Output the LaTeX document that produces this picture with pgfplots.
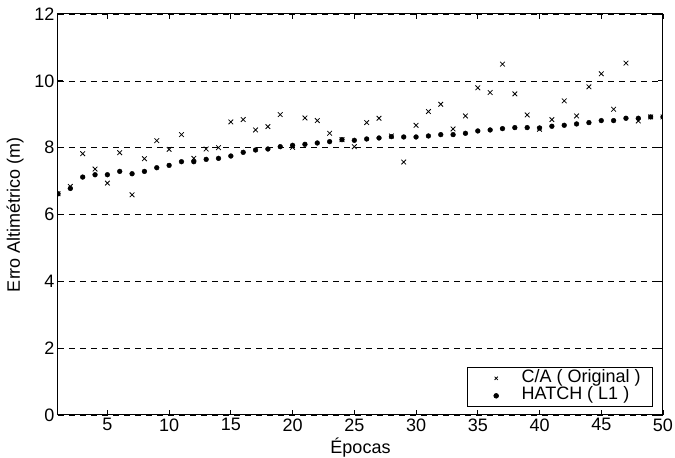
\documentclass[border=0pt]{standalone}
\usepackage{fontspec}
\setmainfont{Liberation Sans}
\usepackage{pgfplots}
\pgfplotsset{compat=1.18}

\newcommand{\figfont}{\fontsize{18}{21}\selectfont}

\begin{document}
\begin{tikzpicture}
\path[use as bounding box] (0,0) rectangle (675pt,458pt);
\begin{axis}[
  at={(58pt,43pt)}, anchor=south west,
  scale only axis, width=605pt, height=401pt,
  xmin=1, xmax=50, ymin=0, ymax=12,
  xtick={5,10,...,50}, ytick={0,2,...,12},
  tick align=inside, major tick length=5pt,
  axis line style={line width=1pt}, every tick/.style={black, line width=0.8pt},
  ymajorgrids=true,
  grid style={black, line width=0.6pt, dash pattern=on 6pt off 5pt},
  /pgf/number format/assume math mode=true,
  tick label style={font=\figfont},
  label style={font=\figfont},
  xlabel={Épocas},
  ylabel={Erro Altimétrico (m)},
  ylabel style={yshift=4pt},
  clip marker paths=true,
  legend style={at={(0.9835,0.02)}, anchor=south east,
    draw=black, line width=0.8pt, inner xsep=0pt, inner ysep=2pt,
    font=\figfont,
    nodes={inner xsep=0pt, inner ysep=0pt, text height=12.5pt, text depth=5pt}},
  legend cell align=left,
  legend image code/.code={%
    \path (-28pt,0pt) (25pt,0pt);
    \draw[#1, mark size=2.3pt] plot coordinates {(0pt,0pt)};},
]
\addplot[only marks, mark=x, mark size=3.3pt, black, line width=0.8pt] coordinates {
(1,6.62) (2,6.84) (3,7.82) (4,7.36) (5,6.94) (6,7.85) (7,6.59) (8,7.67) (9,8.21) (10,7.95)
(11,8.39) (12,7.68) (13,7.96) (14,8.00) (15,8.77) (16,8.84) (17,8.53) (18,8.63) (19,8.99) (20,8.01)
(21,8.89) (22,8.81) (23,8.43) (24,8.24) (25,8.03) (26,8.75) (27,8.88) (28,8.35) (29,7.57) (30,8.67)
(31,9.08) (32,9.30) (33,8.56) (34,8.95) (35,9.79) (36,9.65) (37,10.50) (38,9.61) (39,8.98) (40,8.55)
(41,8.84) (42,9.40) (43,8.95) (44,9.82) (45,10.21) (46,9.15) (47,10.53) (48,8.80) (49,8.92) (50,8.92)
};
\addlegendentry{C/A ( Original )\rule{12pt}{0pt}}
\addplot[only marks, mark=*, mark size=2.4pt, black] coordinates {
(1,6.62) (2,6.78) (3,7.12) (4,7.19) (5,7.19) (6,7.29) (7,7.22) (8,7.29) (9,7.40) (10,7.47)
(11,7.58) (12,7.58) (13,7.65) (14,7.68) (15,7.75) (16,7.86) (17,7.93) (18,7.96) (19,8.03) (20,8.07)
(21,8.10) (22,8.14) (23,8.18) (24,8.24) (25,8.22) (26,8.26) (27,8.29) (28,8.33) (29,8.32) (30,8.32)
(31,8.35) (32,8.39) (33,8.39) (34,8.43) (35,8.50) (36,8.53) (37,8.57) (38,8.60) (39,8.60) (40,8.59)
(41,8.64) (42,8.67) (43,8.71) (44,8.75) (45,8.81) (46,8.81) (47,8.88) (48,8.88) (49,8.92) (50,8.92)
};
\addlegendentry{HATCH ( L1 )}
\end{axis}
\end{tikzpicture}
\end{document}
